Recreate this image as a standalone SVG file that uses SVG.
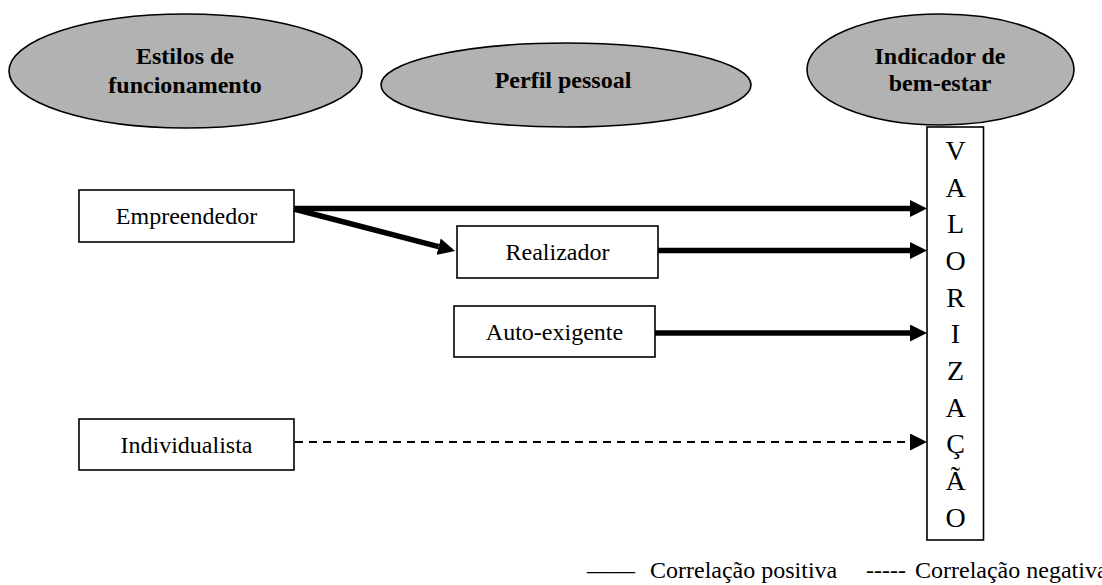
<svg xmlns="http://www.w3.org/2000/svg" width="1102" height="585" viewBox="0 0 1102 585">
  <style>
    .head { fill: #b2b2b2; stroke: #000; stroke-width: 1.6; }
    .head-text { font-family: "Liberation Serif", "Times New Roman", serif; font-weight: bold; font-size: 24px; text-anchor: middle; fill: #000; }
    .box { fill: #fff; stroke: #000; stroke-width: 1.6; }
    .label { font-family: "Liberation Serif", "Times New Roman", serif; font-size: 24px; text-anchor: middle; fill: #000; }
    .letter { font-family: "Liberation Serif", "Times New Roman", serif; font-size: 28px; text-anchor: middle; fill: #000; }
    .pos { stroke: #000; stroke-width: 5.5; fill: none; marker-end: url(#arrow); }
    .neg { stroke: #000; stroke-width: 2; stroke-dasharray: 8 6; fill: none; marker-end: url(#arrow); }
    .legend { font-family: "Liberation Serif", "Times New Roman", serif; font-size: 24px; fill: #000; }
  </style>
  <defs>
    <marker id="arrow" markerUnits="userSpaceOnUse" markerWidth="17" markerHeight="17" refX="0" refY="8.5" orient="auto" viewBox="0 0 17 17">
      <path d="M0,0 L17,8.5 L0,17 z" fill="#000"/>
    </marker>
  </defs>

  <rect width="1102" height="585" fill="#fff"/>

  <!-- column headers -->
  <g id="estilos">
    <ellipse class="head" cx="185.5" cy="71" rx="176.5" ry="57"/>
    <text class="head-text" x="185" y="64">Estilos de</text>
    <text class="head-text" x="185" y="93">funcionamento</text>
  </g>
  <g id="perfil">
    <ellipse class="head" cx="566" cy="85" rx="185" ry="42"/>
    <text class="head-text" x="563" y="88">Perfil pessoal</text>
  </g>
  <g id="indicador">
    <ellipse class="head" cx="940.5" cy="69.5" rx="133.5" ry="55.5"/>
    <text class="head-text" x="940" y="64">Indicador de</text>
    <text class="head-text" x="940" y="91">bem-estar</text>
  </g>

  <!-- functioning styles -->
  <g id="empreendedor">
    <rect class="box" x="79" y="190" width="215" height="52"/>
    <text class="label" x="186.5" y="224">Empreendedor</text>
  </g>
  <g id="individualista">
    <rect class="box" x="79" y="419" width="215" height="51"/>
    <text class="label" x="186.5" y="452.5">Individualista</text>
  </g>

  <!-- personal profile -->
  <g id="realizador">
    <rect class="box" x="457" y="226" width="201" height="52"/>
    <text class="label" x="557.5" y="260">Realizador</text>
  </g>
  <g id="auto-exigente">
    <rect class="box" x="454" y="306" width="201" height="51"/>
    <text class="label" x="554.5" y="339.5">Auto-exigente</text>
  </g>

  <!-- well-being indicator, written vertically -->
  <g id="valorizacao">
    <rect class="box" x="927" y="127" width="56.5" height="413"/>
    <text class="letter" x="955.5" y="160">V</text>
    <text class="letter" x="955.5" y="197">A</text>
    <text class="letter" x="955.5" y="233">L</text>
    <text class="letter" x="955.5" y="270">O</text>
    <text class="letter" x="955.5" y="307">R</text>
    <text class="letter" x="955.5" y="343">I</text>
    <text class="letter" x="955.5" y="380">Z</text>
    <text class="letter" x="955.5" y="417">A</text>
    <text class="letter" x="955.5" y="453">Ç</text>
    <text class="letter" x="955.5" y="490">Ã</text>
    <text class="letter" x="955.5" y="527">O</text>
  </g>

  <!-- correlations -->
  <g id="connectors">
    <line class="pos" x1="294" y1="208.5" x2="910" y2="208.5"/>
    <line class="pos" x1="294" y1="209" x2="438.6" y2="246.7"/>
    <line class="pos" x1="658" y1="250.5" x2="910" y2="250.5"/>
    <line class="pos" x1="655" y1="333" x2="910" y2="333"/>
    <line class="neg" x1="295" y1="442" x2="910" y2="442"/>
  </g>

  <!-- legend -->
  <g id="legend">
    <text class="legend" x="587" y="578">——</text>
    <text class="legend" x="650" y="578">Correlação positiva</text>
    <text class="legend" x="866" y="578">-----</text>
    <text class="legend" x="915" y="578">Correlação negativa</text>
  </g>
</svg>
